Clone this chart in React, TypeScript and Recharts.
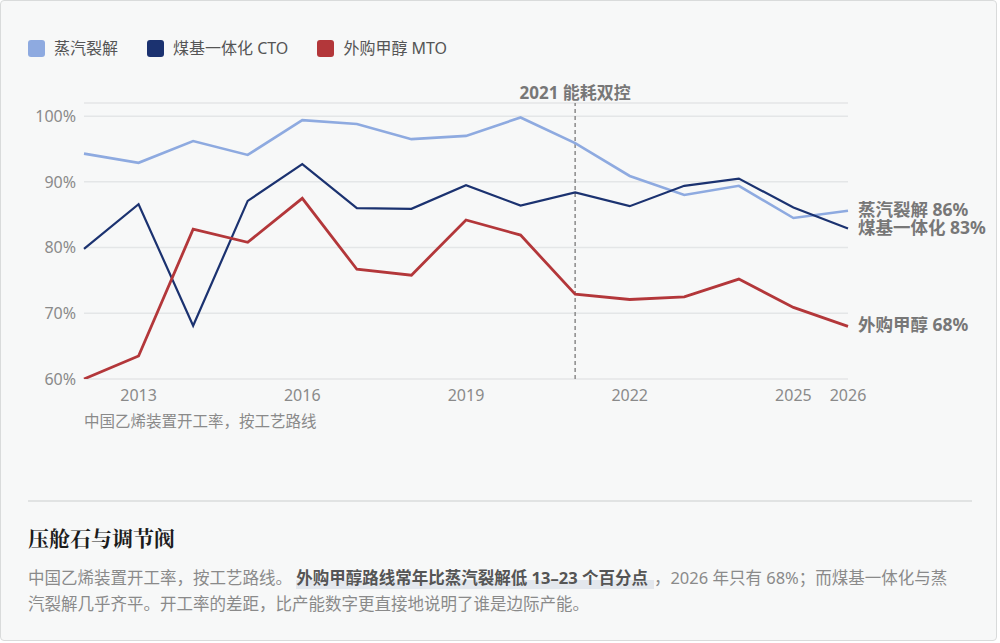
import React from 'react'
import { LineChart, Line, XAxis, YAxis, CartesianGrid, ReferenceLine, LabelList } from 'recharts'

const YEARS = [2012, 2013, 2014, 2015, 2016, 2017, 2018, 2019, 2020, 2021, 2022, 2023, 2024, 2025, 2026]
const STEAM = [94.3, 92.9, 96.2, 94.1, 99.4, 98.8, 96.5, 97.0, 99.8, 95.9, 90.9, 88.0, 89.4, 84.5, 85.6]
const CTO = [79.8, 86.6, 68.1, 87.1, 92.7, 86.0, 85.9, 89.5, 86.4, 88.4, 86.3, 89.4, 90.5, 86.1, 82.9]
const MTO = [60.0, 63.5, 82.8, 80.8, 87.5, 76.7, 75.8, 84.2, 81.9, 72.9, 72.1, 72.5, 75.2, 70.9, 68.0]
const X_TICKS = [2013, 2016, 2019, 2022, 2025, 2026]
const Y_TICKS = [60, 70, 80, 90, 100]

const SERIES = [
  { key: 'steam', name: '蒸汽裂解', end: '蒸汽裂解 86%', color: '#8eaae0', width: 2.6 },
  { key: 'cto', name: '煤基一体化 CTO', end: '煤基一体化 83%', color: '#1b3270', width: 2.2 },
  { key: 'mto', name: '外购甲醇 MTO', end: '外购甲醇 68%', color: '#b3373a', width: 2.8 },
]

const data = YEARS.map((year, i) => ({ year, steam: STEAM[i], cto: CTO[i], mto: MTO[i] }))

const FONT = '"Noto Sans", "Noto Sans CJK SC", sans-serif'
const AXIS_TICK = { fill: '#8a8a8a', fontSize: 16, fontFamily: FONT }

// label only on the last point, to the right of the plot
const endLabel = (text: string) => (props: any) => {
  if (props.index !== data.length - 1) return null
  return (
    <text x={props.x + 10} y={props.y - 2} dominantBaseline="central" fill="#777"
      fontSize={17.5} fontWeight={700} fontFamily={FONT}>
      {text}
    </text>
  )
}

export default function App() {
  return (
    <div style={{ position: 'absolute', left: 0, top: 0, width: 1000, height: 643, background: '#fff', fontFamily: FONT }}>
      <div style={{
        position: 'absolute', left: 0, top: 0, width: 995, height: 639,
        border: '1px solid #d9dbdb', borderRadius: 4, background: '#f7f8f8',
      }} />

      {/* legend */}
      <div style={{ position: 'absolute', left: 28, top: 38, display: 'flex', alignItems: 'center', fontSize: 16, color: '#555' }}>
        {SERIES.map(s => (
          <div key={s.key} style={{ display: 'flex', alignItems: 'center', marginRight: 29 }}>
            <span style={{ width: 17, height: 17, borderRadius: 3, background: s.color, marginRight: 9, display: 'inline-block' }} />
            <span style={{ lineHeight: '20px' }}>{s.name}</span>
          </div>
        ))}
      </div>

      <div style={{ position: 'absolute', left: 0, top: 0 }}>
        <LineChart width={1000} height={420} data={data} margin={{ top: 103, right: 152, bottom: 11, left: 0 }}>
          <CartesianGrid horizontal vertical={false} stroke="#e4e6e7" strokeWidth={1.5} />
          <XAxis dataKey="year" type="number" domain={[2012, 2026]} ticks={X_TICKS} interval={0}
            axisLine={false} tickLine={false} tickMargin={5} height={30} tick={AXIS_TICK} />
          <YAxis type="number" domain={[60, 102]} ticks={Y_TICKS} width={84} allowDataOverflow
            axisLine={false} tickLine={false} tick={AXIS_TICK} tickFormatter={v => `${v}%`} />
          <ReferenceLine x={2021} stroke="#8a8a8a" strokeWidth={1.5} strokeDasharray="4 3"
            label={{ value: '2021 能耗双控', position: 'top', fill: '#777', fontSize: 17, fontWeight: 700, fontFamily: FONT, offset: 4 }} />
          {SERIES.map(s => (
            <Line key={s.key} type="linear" dataKey={s.key} stroke={s.color} strokeWidth={s.width}
              dot={false} activeDot={false} isAnimationActive={false}>
              <LabelList dataKey={s.key} content={endLabel(s.end)} />
            </Line>
          ))}
        </LineChart>
      </div>

      <div style={{ position: 'absolute', left: 84, top: 411, fontSize: 15.5, lineHeight: '20px', color: '#8a8a8a' }}>
        中国乙烯装置开工率，按工艺路线
      </div>

      <div style={{ position: 'absolute', left: 28, top: 500, width: 944, height: 2, background: '#e1e3e3' }} />

      <div style={{
        position: 'absolute', left: 28, top: 523, fontSize: 21, fontWeight: 700, color: '#1c1c1c',
        fontFamily: '"Noto Serif CJK SC", serif', lineHeight: '28px',
      }}>
        压舱石与调节阀
      </div>

      <div style={{ position: 'absolute', left: 28, top: 565, width: 935, fontSize: 16.5, lineHeight: '26px', color: '#8a8a8a' }}>
        中国乙烯装置开工率，按工艺路线。{' '}
        <b style={{ color: '#555', paddingRight: 6, background: 'linear-gradient(transparent 60%, #e3e7ed 60%)' }}>外购甲醇路线常年比蒸汽裂解低 13–23 个百分点</b>
        ，2026 年只有 68%；而煤基一体化与蒸汽裂解几乎齐平。开工率的差距，比产能数字更直接地说明了谁是边际产能。
      </div>
    </div>
  )
}
